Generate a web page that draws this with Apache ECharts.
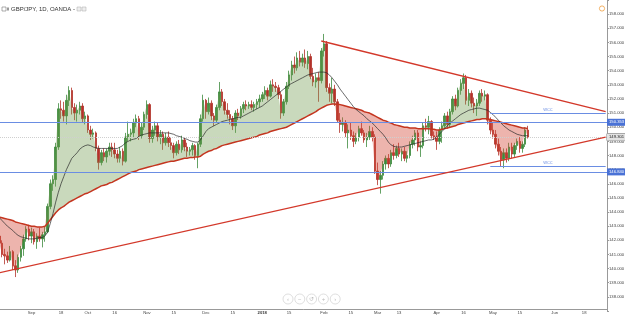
<!DOCTYPE html>
<html>
<head>
<meta charset="utf-8">
<script src="https://cdn.jsdelivr.net/npm/echarts/dist/echarts.min.js"></script>
<style>
  html, body { margin: 0; padding: 0; background: #fff; }
  #chart { width: 625px; height: 317px; }
</style>
</head>
<body>
<div id="chart"></div>
<script>
// -----------------------------------------------------------------------------
// Data (GBP/JPY daily)
// -----------------------------------------------------------------------------
const firstDate = "2017-08-16";
const slotCount = 227; // trading days incl. empty space up to end of June

// [open, close, low, high]
const candles = [
  [142.3,141.8,141.6,142.6],[141.8,141.0,140.8,142.0],[141.0,140.9,140.3,141.4],
  [140.9,140.6,140.4,141.2],[140.6,141.2,140.5,141.6],[141.2,140.2,139.9,141.3],[140.2,139.9,139.4,140.6],[139.9,140.8,139.7,141.0],
  [140.8,141.4,140.5,141.6],[141.4,142.1,140.9,142.4],[142.1,142.8,141.9,143.0],[142.8,142.3,142.0,143.1],[142.3,142.6,141.8,142.9],
  [142.6,141.9,141.7,142.8],[141.9,142.3,141.4,142.5],[142.3,142.1,141.9,142.9],[142.1,142.4,141.5,142.6],[142.4,142.6,141.9,143.0],
  [142.6,144.4,142.5,144.6],[144.4,146.0,144.2,146.3],[146.0,146.3,145.5,146.6],[146.3,148.6,145.8,148.9],[148.6,151.3,148.4,151.7],
  [151.3,151.2,150.6,151.9],[151.2,150.8,150.4,151.8],[150.8,151.9,150.2,152.3],[151.9,152.6,151.5,152.9],[152.6,151.4,150.9,152.8],
  [151.4,151.0,150.5,151.7],[151.0,151.2,150.4,151.6],[151.2,151.5,150.9,151.8],[151.5,150.6,150.3,151.7],[150.6,150.8,150.2,151.1],
  [150.8,149.8,149.6,150.9],[149.8,149.5,149.1,150.1],[149.5,149.6,149.2,149.9],[149.6,148.5,148.3,149.7],[148.5,147.5,147.0,148.7],
  [147.5,148.2,147.3,148.4],[148.2,147.9,147.6,148.5],[147.9,148.3,147.5,148.5],[148.3,148.6,148.0,148.9],[148.6,148.4,147.9,148.9],
  [148.4,148.1,147.8,148.9],[148.1,147.8,147.5,148.4],[147.8,148.3,147.5,148.6],[148.3,147.6,147.3,148.5],[147.6,149.3,147.5,149.6],
  [149.3,149.5,149.0,150.4],[149.5,149.6,149.0,149.9],[149.6,150.3,149.3,150.6],[150.3,150.6,150.0,150.9],[150.6,149.4,149.1,150.8],
  [149.4,150.0,149.2,150.3],[150.0,150.9,149.8,151.1],[150.9,151.6,150.6,151.9],[151.6,149.2,148.9,151.7],[149.2,149.8,148.9,150.1],
  [149.8,150.1,149.4,150.4],[150.1,149.3,149.0,150.3],[149.3,149.5,148.8,149.8],[149.5,148.9,148.4,149.7],[148.9,149.3,148.7,149.6],
  [149.3,148.9,148.6,149.7],[148.9,148.7,148.4,149.3],[148.7,148.2,147.8,148.9],[148.2,148.8,148.0,149.0],[148.8,148.4,148.1,149.1],
  [148.4,149.1,148.2,149.4],[149.1,148.6,148.3,149.3],[148.6,148.3,147.9,148.9],[148.3,148.4,148.0,148.6],[148.4,148.7,148.0,148.9],
  [148.7,148.0,147.7,148.8],[148.0,148.8,147.1,148.9],[148.8,150.6,148.6,150.9],[150.6,151.9,150.4,152.3],[151.9,151.1,150.6,152.0],
  [151.1,151.7,150.9,152.1],[151.7,150.8,150.5,151.9],[150.8,150.5,150.1,151.0],[150.5,151.4,150.3,151.6],[151.4,152.5,151.2,153.2],
  [152.5,151.8,151.5,152.7],[151.8,151.2,150.9,152.0],[151.2,150.9,150.6,151.7],[150.9,150.6,150.2,151.2],[150.6,150.1,149.8,150.8],
  [150.1,151.0,149.6,151.2],[151.0,150.8,150.5,151.3],[150.8,151.3,150.6,151.5],[151.3,151.6,151.0,151.8],[151.6,151.5,151.2,151.9],
  [151.5,151.6,151.3,151.8],[151.6,151.4,151.2,151.9],[151.4,151.6,151.1,151.8],[151.6,151.8,151.3,152.0],[151.8,152.0,151.4,152.3],
  [152.0,152.3,151.8,152.5],[152.3,152.6,152.0,152.9],[152.6,152.2,151.9,152.8],[152.2,153.0,152.1,153.3],[153.0,152.9,152.5,153.4],
  [152.9,152.8,152.5,153.2],[152.8,152.3,152.0,153.0],[152.3,151.0,150.6,152.5],[151.0,151.8,150.8,152.0],[151.8,152.9,151.6,153.2],
  [152.9,153.7,152.7,154.0],[153.7,154.4,153.3,154.7],[154.4,154.2,153.8,155.0],[154.2,154.9,154.0,155.3],[154.9,154.6,154.3,155.4],
  [154.6,154.9,154.3,155.2],[154.9,154.5,154.2,155.5],[154.5,155.0,154.1,155.4],[155.0,153.6,153.4,155.2],[153.6,153.2,152.9,154.2],
  [153.2,153.5,152.8,153.8],[153.5,153.3,151.8,153.9],[153.3,155.4,153.1,155.6],[155.4,155.9,155.0,156.6],[155.9,152.8,152.5,156.1],
  [152.8,152.4,151.8,153.1],[152.4,152.7,151.7,153.5],[152.7,151.8,151.5,153.0],[151.8,150.5,150.3,152.0],[150.5,150.2,149.6,151.0],
  [150.2,150.3,149.7,150.7],[150.3,149.6,149.3,150.5],[149.6,149.8,148.5,150.2],[149.8,149.4,149.1,150.3],[149.4,149.0,148.6,149.7],
  [149.0,149.3,148.8,149.6],[149.3,149.9,149.0,150.1],[149.9,149.6,149.4,150.4],[149.6,149.1,148.9,149.8],[149.1,149.3,148.6,149.6],
  [149.3,149.7,149.1,150.1],[149.7,149.3,149.0,150.0],[149.3,146.9,146.7,149.5],[146.9,146.3,145.9,147.5],[146.3,146.6,145.3,146.9],
  [146.6,147.4,146.3,147.6],[147.4,147.8,147.0,148.0],[147.8,147.4,147.1,148.1],[147.4,148.2,147.2,148.4],[148.2,148.0,147.7,148.8],
  [148.0,148.5,147.8,148.7],[148.5,148.1,147.9,148.9],[148.1,148.3,147.6,148.5],[148.3,147.8,147.6,148.6],[147.8,148.0,147.5,148.3],
  [148.0,148.8,147.8,149.0],[148.8,149.1,148.5,149.4],[149.1,149.6,148.7,149.8],[149.6,148.6,148.3,149.8],[148.6,148.7,147.9,149.0],
  [148.7,150.1,148.5,150.3],[150.1,150.0,149.7,150.6],[150.0,150.4,149.5,150.8],[150.4,149.4,149.2,150.5],[149.4,149.3,149.1,149.7],
  [149.3,149.0,148.4,149.7],[149.0,149.8,148.8,150.0],[149.8,150.1,148.9,150.4],[150.1,150.8,149.9,151.0],[150.8,150.2,149.9,151.1],
  [150.2,151.1,150.0,151.3],[151.1,152.0,150.9,152.2],[152.0,151.5,151.2,152.3],[151.5,152.6,151.4,152.8],[152.6,153.1,152.3,153.4],
  [153.1,153.5,152.7,153.8],[153.5,151.9,151.6,153.7],[151.9,152.4,151.5,152.7],[152.4,151.7,151.4,152.6],[151.7,151.5,151.0,152.1],
  [151.5,151.7,150.8,152.0],[151.7,152.4,151.5,152.6],[152.4,152.2,151.8,152.7],[152.2,152.3,151.9,152.6],[152.3,150.5,150.2,152.4],
  [150.5,149.8,149.5,150.7],[149.8,149.5,149.2,150.3],[149.5,148.8,148.5,149.8],[148.8,148.3,148.0,149.2],[148.3,147.7,147.2,148.6],
  [147.7,148.2,147.1,148.5],[148.2,147.8,147.5,148.5],[147.8,148.6,147.6,148.9],[148.6,148.1,147.8,148.9],[148.1,148.7,147.9,148.9],
  [148.7,149.0,148.4,149.2],[149.0,148.5,148.2,149.3],[148.5,148.8,148.2,149.0],[148.8,149.8,148.6,150.0],[149.8,149.3,149.2,150.1]
];

// slow moving average (thick red line)
const slowMa = [
  143.65,143.6,143.55,143.5,143.45,143.4,143.3,143.25,143.2,143.15,
  143.1,143.05,143.0,143.0,142.95,142.95,142.95,143.0,143.2,143.45,
  143.7,143.95,144.15,144.3,144.4,144.55,144.7,144.8,144.9,145.0,
  145.1,145.2,145.3,145.35,145.45,145.55,145.65,145.75,145.85,145.9,
  145.95,146.05,146.1,146.2,146.3,146.4,146.5,146.6,146.7,146.8,
  146.85,146.9,147.0,147.05,147.1,147.15,147.2,147.25,147.3,147.35,
  147.4,147.45,147.5,147.55,147.6,147.6,147.65,147.7,147.75,147.8,
  147.8,147.85,147.85,147.9,147.9,147.95,148.1,148.2,148.3,148.35,
  148.45,148.5,148.6,148.7,148.75,148.8,148.85,148.9,148.95,149.0,
  149.05,149.1,149.15,149.2,149.25,149.3,149.35,149.45,149.5,149.55,
  149.6,149.7,149.75,149.8,149.85,149.9,149.95,150.0,150.1,150.2,
  150.3,150.4,150.5,150.6,150.7,150.8,150.9,151.0,151.1,151.25,
  151.35,151.45,151.55,151.6,151.65,151.65,151.6,151.6,151.55,151.5,
  151.45,151.4,151.35,151.3,151.25,151.2,151.1,151.05,151.0,150.9,
  150.8,150.7,150.6,150.5,150.45,150.35,150.3,150.2,150.15,150.1,
  150.05,150.0,150.0,149.95,149.95,149.95,149.9,149.9,149.9,149.9,
  149.9,149.85,149.85,149.8,149.8,149.85,149.9,149.95,150.0,150.05,
  150.1,150.2,150.25,150.3,150.35,150.4,150.45,150.5,150.55,150.55,
  150.6,150.6,150.6,150.55,150.5,150.45,150.4,150.35,150.3,150.25,
  150.2,150.15,150.1,150.05,150.0,149.95,149.95,149.9
];

// fast moving average (thin dark line)
const fastMa = [
  143.6,143.4,143.2,143.0,142.85,142.7,142.5,142.35,142.25,142.2,
  142.15,142.1,142.1,142.1,142.15,142.2,142.2,142.3,142.6,143.2,
  143.9,144.7,145.4,146.0,146.5,147.0,147.4,147.8,148.0,148.2,
  148.45,148.6,148.7,148.75,148.7,148.6,148.55,148.5,148.5,148.5,
  148.5,148.5,148.5,148.5,148.5,148.6,148.7,148.9,149.0,149.1,
  149.15,149.2,149.35,149.45,149.5,149.55,149.6,149.6,149.6,149.6,
  149.6,149.6,149.6,149.6,149.55,149.5,149.4,149.35,149.3,149.2,
  149.15,149.05,149.0,148.95,148.95,149.1,149.4,149.7,149.9,150.0,
  150.1,150.2,150.3,150.4,150.45,150.5,150.55,150.6,150.65,150.7,
  150.7,150.8,150.9,151.0,151.1,151.2,151.3,151.4,151.5,151.65,
  151.8,151.95,152.1,152.25,152.4,152.55,152.7,152.85,153.0,153.1,
  153.2,153.3,153.4,153.5,153.6,153.7,153.75,153.8,153.85,153.9,
  153.9,153.9,153.85,153.7,153.5,153.25,153.0,152.7,152.45,152.2,
  151.95,151.7,151.45,151.25,151.1,150.95,150.8,150.6,150.45,150.3,
  150.1,149.9,149.7,149.5,149.25,148.95,148.75,148.65,148.6,148.6,
  148.6,148.65,148.7,148.75,148.8,148.85,148.9,148.95,149.0,149.05,
  149.1,149.1,149.15,149.3,149.5,149.7,149.9,150.1,150.3,150.45,
  150.6,150.75,150.9,151.0,151.1,151.2,151.25,151.3,151.35,151.35,
  151.3,151.25,151.2,151.05,150.9,150.7,150.5,150.3,150.1,149.95,
  149.8,149.7,149.6,149.5,149.45,149.4,149.4,149.4
];

// time axis ticks
const tickDates = ["2017-09-01","2017-09-18","2017-10-02","2017-10-16","2017-11-01","2017-11-15",
  "2017-12-01","2017-12-15","2018-01-01","2018-01-15","2018-02-01","2018-02-15","2018-03-01",
  "2018-03-13","2018-04-02","2018-04-16","2018-05-01","2018-05-15","2018-06-01","2018-06-18"];
const tickLabels = ["Sep","18","Oct","16","Nov","15","Dec","15","2018","15","Feb","15","Mar",
  "13","Apr","16","May","15","Jun","18"];

// horizontal levels
const supportResistance = [150.353, 146.840];
const lastPrice = 149.301;
const wccLevels = [151.0, 147.25];
const wccStart = "2018-04-30";

// trend lines: [startDate, startPrice, endDate, endPrice]
const trendLines = [
  ["2018-01-31", 156.1, "2018-06-28", 151.1],
  ["2017-08-16", 139.7, "2018-06-28", 149.3],
];

// -----------------------------------------------------------------------------
// Build
// -----------------------------------------------------------------------------
const weekdays = (start, n) => {
  const out = [];
  const d = new Date(start + "T00:00:00Z");
  while (out.length < n) {
    const w = d.getUTCDay();
    if (w !== 0 && w !== 6) out.push(d.toISOString().slice(0, 10));
    d.setUTCDate(d.getUTCDate() + 1);
  }
  return out;
};
const dates = weekdays(firstDate, slotCount);
const labelMap = new Map(tickDates.map((d, i) => [d, tickLabels[i]]));

const closes = candles.map((r) => r[1]);
const fillBase = closes.map((c, i) => Math.min(c, slowMa[i]));
const fillUp = closes.map((c, i) => Math.max(c - slowMa[i], 0));
const fillDown = closes.map((c, i) => Math.max(slowMa[i] - c, 0));

const FONT = "Liberation Sans, Arial, sans-serif";
const BLUE = "#6a8de3";
const AXIS_FS = 4.2;

const levelLines = supportResistance.map((v) => ({
  yAxis: v,
  lineStyle: { color: BLUE, width: 1, type: "solid" },
  label: {
    show: true, position: "end", distance: 0, formatter: v.toFixed(3),
    backgroundColor: "#4a72d6", color: "#fff", fontSize: AXIS_FS, padding: [1.5, 2],
  },
}));
levelLines.push({
  yAxis: lastPrice,
  lineStyle: { color: "#cfcfcf", width: 1, type: "dotted" },
  label: {
    show: true, position: "end", distance: 0, formatter: lastPrice.toFixed(3),
    backgroundColor: "#e2e2e2", borderColor: "#777", borderWidth: 0.5,
    color: "#222", fontSize: AXIS_FS, padding: [1.5, 2],
  },
});
const wccLines = wccLevels.map((v) => [
  {
    coord: [wccStart, v],
    lineStyle: { color: BLUE, width: 1, type: "solid" },
    label: { show: true, position: "insideMiddleTop", formatter: "WCC", color: BLUE, fontSize: 4, distance: 1 },
  },
  { coord: [dates[slotCount - 1], v] },
]);
const trendPairs = trendLines.map(([d0, p0, d1, p1]) => [
  { coord: [d0, p0] },
  { coord: [d1, p1] },
]);

const chart = echarts.init(document.getElementById("chart"), null, { renderer: "canvas" });

const option = {
  animation: false,
  backgroundColor: "#fff",
  textStyle: { fontFamily: FONT },
  grid: { left: -2, right: 18, top: 0, bottom: 6, outerBoundsMode: "none", containLabel: false },
  xAxis: {
    type: "category",
    data: dates,
    boundaryGap: true,
    offset: -2,
    axisLine: { lineStyle: { color: "#999", width: 1 } },
    axisTick: { show: false },
    axisLabel: {
      interval: (idx, val) => labelMap.has(val),
      formatter: (val) => {
        const t = labelMap.get(val) || "";
        return t === "2018" ? "{b|2018}" : t;
      },
      rich: { b: { fontWeight: "bold", fontSize: AXIS_FS, color: "#333", fontFamily: FONT } },
      fontSize: AXIS_FS,
      color: "#444",
      margin: 2,
    },
    splitLine: { show: false },
  },
  yAxis: {
    type: "value",
    position: "right",
    min: 137,
    max: 159,
    interval: 1,
    axisLine: { show: true, lineStyle: { color: "#999", width: 1 } },
    axisTick: { show: true, length: 2, lineStyle: { color: "#999" } },
    axisLabel: {
      fontSize: AXIS_FS,
      color: "#444",
      margin: 2,
      formatter: (v) => (v === 137 || v === 159 ? "" : v.toFixed(3)),
    },
    splitLine: { show: false },
  },
  series: [
    {
      name: "fillBase", type: "line", stack: "fill", data: fillBase,
      symbol: "none", lineStyle: { width: 0, opacity: 0 }, silent: true,
    },
    {
      name: "fillUp", type: "line", stack: "fill", data: fillUp,
      symbol: "none", lineStyle: { width: 0, opacity: 0 }, silent: true,
      areaStyle: { color: "rgba(115,155,80,0.55)" },
    },
    {
      name: "fillDown", type: "line", stack: "fill", data: fillDown,
      symbol: "none", lineStyle: { width: 0, opacity: 0 }, silent: true,
      areaStyle: { color: "rgba(210,70,55,0.58)" },
    },
    {
      name: "GBP/JPY", type: "candlestick", data: candles,
      barWidth: 2,
      itemStyle: {
        color: "#3d8a3d", color0: "#b3322a",
        borderColor: "#3d8a3d", borderColor0: "#b3322a", borderWidth: 0.8,
      },
      markLine: {
        symbol: "none", silent: true, animation: false,
        data: levelLines.concat(wccLines),
      },
    },
    {
      name: "slowMa", type: "line", data: slowMa, symbol: "none",
      lineStyle: { color: "#c4351f", width: 1.5 },
    },
    {
      name: "fastMa", type: "line", data: fastMa, symbol: "none",
      lineStyle: { color: "#2a2a2a", width: 0.7 },
      markLine: {
        symbol: "none", silent: true, animation: false,
        lineStyle: { color: "#d3382a", width: 1.3, type: "solid" },
        label: { show: false },
        data: trendPairs,
      },
    },
  ],
  graphic: [
    { type: "rect", shape: { x: 2, y: 7, width: 4, height: 4 }, style: { fill: "#fff", stroke: "#777", lineWidth: 0.6 } },
    { type: "rect", shape: { x: 7, y: 7.5, width: 2, height: 3 }, style: { fill: "#999" } },
    { type: "text", x: 11, y: 6, style: { text: "GBP/JPY, 1D, OANDA -", fontSize: 6, fill: "#333", fontFamily: FONT } },
    { type: "rect", shape: { x: 77, y: 7, width: 4, height: 4 }, style: { fill: "#eee", stroke: "#aaa", lineWidth: 0.5 } },
    { type: "rect", shape: { x: 82, y: 7, width: 4, height: 4 }, style: { fill: "#eee", stroke: "#aaa", lineWidth: 0.5 } },
    { type: "circle", shape: { cx: 602, cy: 8.5, r: 2.6 }, style: { fill: "none", stroke: "#f0a040", lineWidth: 0.8 } },
    ...["\u2039", "\u2212", "\u21ba", "+", "\u203a"].flatMap((s, k) => {
      const cx = 288 + k * 11.8;
      return [
        { type: "circle", shape: { cx, cy: 299, r: 5 }, style: { fill: "rgba(255,255,255,0.8)", stroke: "#d6d6d6", lineWidth: 0.8 } },
        { type: "text", x: cx, y: 299, style: { text: s, fontSize: 6, fill: "#bbb", align: "center", verticalAlign: "middle", fontFamily: FONT } },
      ];
    }),
  ],
};

chart.setOption(option);
window.addEventListener("resize", () => chart.resize());
</script>
</body>
</html>
